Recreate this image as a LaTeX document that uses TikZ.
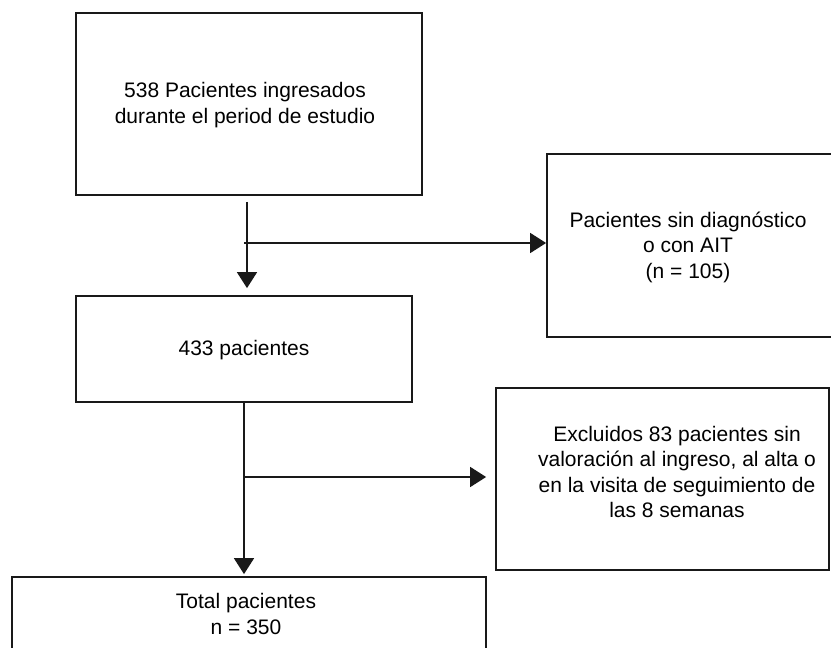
\documentclass[tikz,border=0pt]{standalone}
\usepackage{fontspec}
\setmainfont{Liberation Sans}
\usetikzlibrary{arrows.meta,calc}
\tikzset{
  box/.style={draw=black!90, line width=1.8pt, rectangle, inner sep=0pt},
  txt/.style={align=center, font=\fontsize{21}{25.5}\selectfont, inner sep=0pt},
  conn/.style={draw=black!90, line width=1.7pt},
  arr/.style={conn, -{Triangle[length=16pt,width=20pt]}}
}
\begin{document}
\begin{tikzpicture}[x=1pt,y=-1pt]
\useasboundingbox (0,0) rectangle (831,648);
% boxes
\node[box, minimum width=346pt, minimum height=182pt] (b1) at (249,104) {};
\node[txt] (t1) at (245,105) {538 Pacientes ingresados\\durante el period de estudio};
\node[box, minimum width=288pt, minimum height=183pt] (b2) at (691,245.5) {};
\node[txt] (t2) at (688,247) {Pacientes sin diagnóstico\\o con AIT\\(n = 105)};
\node[box, minimum width=336pt, minimum height=106pt] (b3) at (244,349) {};
\node[txt] (t3) at (244,350) {433 pacientes};
\node[box, minimum width=333pt, minimum height=182pt] (b4) at (662.5,479) {};
\node[txt] (t4) at (677,472) {Excluidos 83 pacientes sin\\valoración al ingreso, al alta o\\en la visita de seguimiento de\\las 8 semanas};
\node[box, minimum width=474pt, minimum height=100pt] (b5) at (249,627) {};
\node[txt] (t5) at (246,614) {Total pacientes\\n = 350};
% connectors
\coordinate (j1) at (247,243);
\coordinate (j2) at (244,477);
\draw[arr, shorten <=6pt, shorten >=7pt] (b1.south -| j1) -- (b3.north -| j1);
\draw[arr] ($(j1)+(-3,0)$) -- (j1 -| b2.west);
\draw[conn] (b3.south -| j2) -- (j2);
\draw[arr, shorten >=2pt] (j2) -- (b5.north -| j2);
\draw[arr, shorten >=9pt] (j2) -- (j2 -| b4.west);
\end{tikzpicture}
\end{document}
